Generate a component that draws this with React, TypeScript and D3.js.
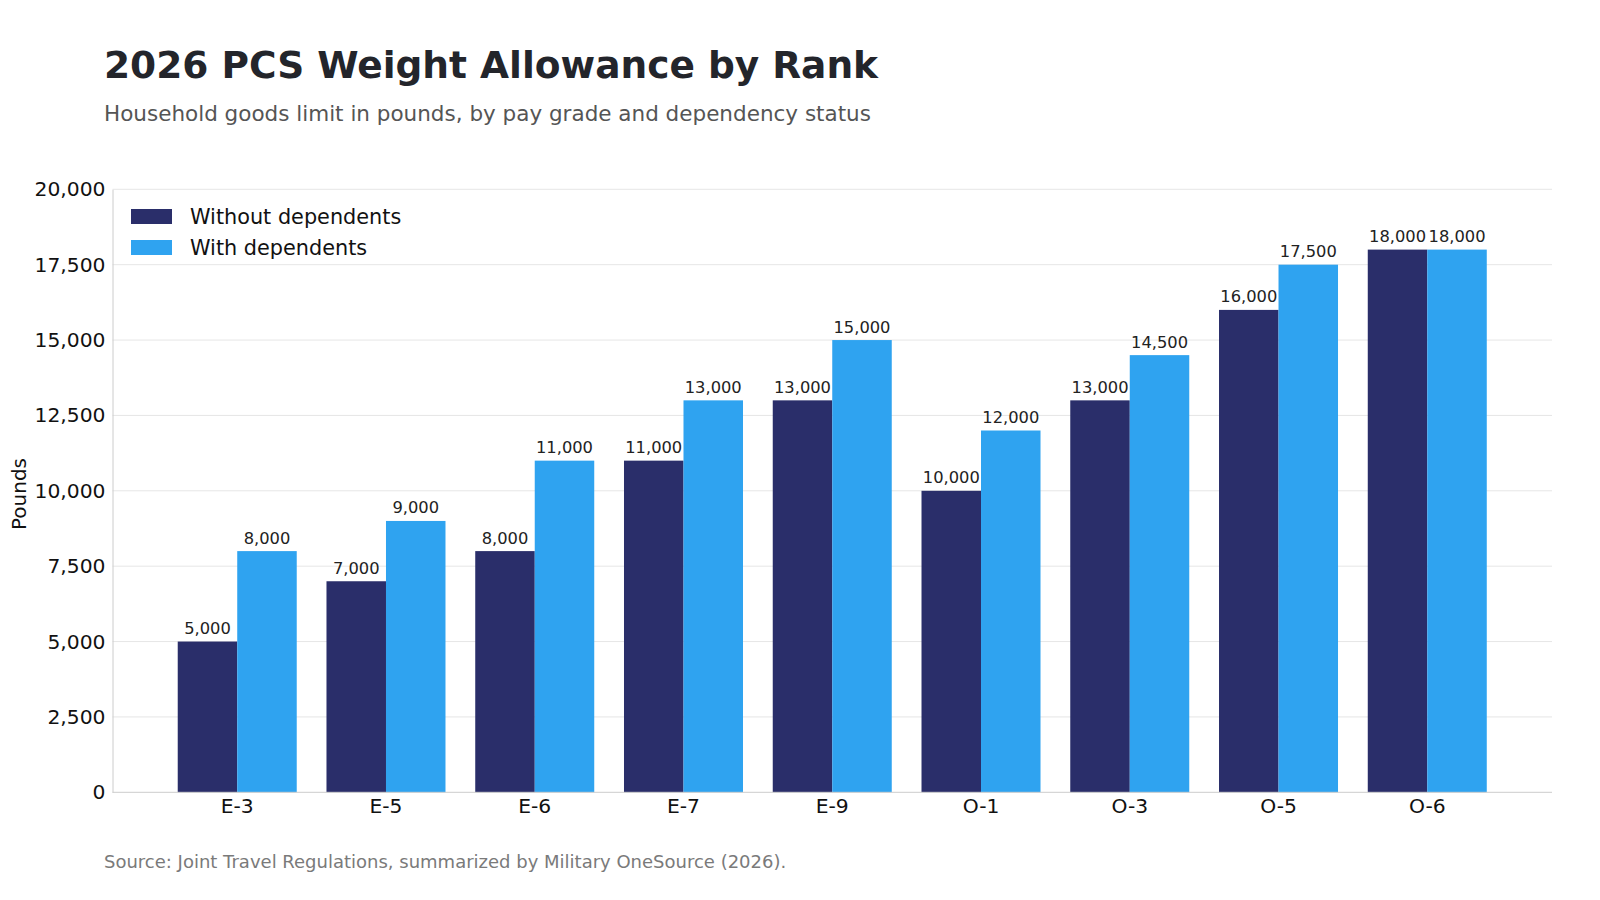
import React, { useEffect, useRef } from "react";
import * as d3 from "d3";

const ranks = ["E-3", "E-5", "E-6", "E-7", "E-9", "O-1", "O-3", "O-5", "O-6"];
const withoutDependents = [5000, 7000, 8000, 11000, 13000, 10000, 13000, 16000, 18000];
const withDependents = [8000, 9000, 11000, 13000, 15000, 12000, 14500, 17500, 18000];
const seriesNames = ["Without dependents", "With dependents"];
const seriesColors = ["#2a2e6a", "#2fa3f0"];
const yTicks = [0, 2500, 5000, 7500, 10000, 12500, 15000, 17500, 20000];

const W = 1600;
const H = 900;
const FONT = "'DejaVu Sans', sans-serif";

export default function App() {
  const ref = useRef<SVGSVGElement>(null);

  useEffect(() => {
    const svg = d3.select(ref.current);
    svg.selectAll("*").remove();

    const left = 112.5, right = 1552, top = 189.3, bottom = 792.3;

    const x = d3.scaleBand().domain(ranks).range([left, right]).paddingInner(0.2).paddingOuter(0.4385);
    const xs = d3.scaleBand().domain(seriesNames).range([0, x.bandwidth()]);
    const y = d3.scaleLinear().domain([0, 20000]).range([bottom, top]);
    const fmt = d3.format(",");

    svg.append("rect").attr("width", W).attr("height", H).attr("fill", "#fff");

    // title block
    svg.append("text").attr("x", 104).attr("y", 78).attr("font-family", FONT)
      .attr("font-size", 37.5).attr("font-weight", "bold").attr("fill", "#23252b")
      .text("2026 PCS Weight Allowance by Rank");
    svg.append("text").attr("x", 104).attr("y", 121).attr("font-family", FONT)
      .attr("font-size", 21.5).attr("fill", "#555")
      .text("Household goods limit in pounds, by pay grade and dependency status");

    // gridlines
    svg.append("g").selectAll("line").data(yTicks.filter(d => d > 0)).join("line")
      .attr("x1", left).attr("x2", right)
      .attr("y1", d => y(d)).attr("y2", d => y(d))
      .attr("stroke", "#e6e6e6").attr("stroke-width", 1);

    // bars
    const series = [withoutDependents, withDependents];
    const groups = svg.append("g").selectAll("g").data(ranks).join("g")
      .attr("transform", d => `translate(${x(d)},0)`);

    groups.selectAll("rect")
      .data((_, i) => series.map((s, k) => ({ key: seriesNames[k], value: s[i], k })))
      .join("rect")
      .attr("x", d => xs(d.key)!)
      .attr("width", xs.bandwidth())
      .attr("y", d => y(d.value))
      .attr("height", d => y(0) - y(d.value))
      .attr("fill", d => seriesColors[d.k]);

    groups.selectAll("text")
      .data((_, i) => series.map((s, k) => ({ key: seriesNames[k], value: s[i] })))
      .join("text")
      .attr("x", d => xs(d.key)! + xs.bandwidth() / 2)
      .attr("y", d => y(d.value) - 7.5)
      .attr("text-anchor", "middle")
      .attr("font-family", FONT).attr("font-size", 16.3).attr("fill", "#222")
      .text(d => fmt(d.value));

    // axes
    const yAxis = svg.append("g").attr("transform", `translate(${left},0)`)
      .call(d3.axisLeft(y).tickValues(yTicks).tickFormat(d => fmt(+d)).tickSize(0).tickPadding(7));
    yAxis.select(".domain").attr("stroke", "#cccccc");
    yAxis.selectAll("text").attr("font-family", FONT).attr("font-size", 20.3).attr("fill", "#111");

    const xAxis = svg.append("g").attr("transform", `translate(0,${bottom})`)
      .call(d3.axisBottom(x).tickSize(0).tickPadding(6));
    xAxis.select(".domain").attr("stroke", "#cccccc").attr("d", `M${left},0H${right}`);
    xAxis.selectAll("text").attr("font-family", FONT).attr("font-size", 20.3).attr("fill", "#111");

    svg.append("text")
      .attr("transform", `translate(25.5,494) rotate(-90)`)
      .attr("text-anchor", "middle").attr("font-family", FONT).attr("font-size", 20).attr("fill", "#111")
      .text("Pounds");

    // legend
    const legend = svg.append("g").attr("transform", "translate(131,209)");
    seriesNames.forEach((name, i) => {
      legend.append("rect").attr("x", 0).attr("y", i * 31).attr("width", 41).attr("height", 15)
        .attr("fill", seriesColors[i]);
      legend.append("text").attr("x", 59).attr("y", i * 31 + 14.5)
        .attr("font-family", FONT).attr("font-size", 20.8).attr("fill", "#111").text(name);
    });

    svg.append("text").attr("x", 104).attr("y", 868).attr("font-family", FONT)
      .attr("font-size", 18).attr("fill", "#7a7a7a")
      .text("Source: Joint Travel Regulations, summarized by Military OneSource (2026).");
  }, []);

  return <svg ref={ref} width={W} height={H} style={{ position: "absolute", left: 0, top: 0 }} />;
}
